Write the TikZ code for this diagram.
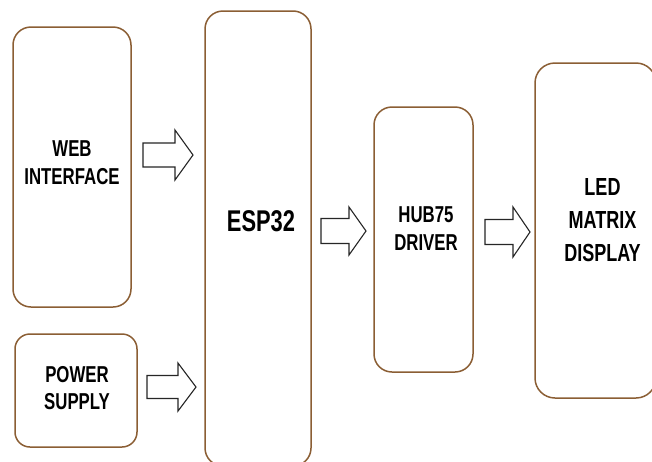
\documentclass[tikz,border=0pt]{standalone}
\usepackage{fontspec}
\setmainfont{Liberation Sans}
\definecolor{boxbrown}{RGB}{139,94,52}
\newcommand\blockarrowdraw[5]{% tail coordinate name, shaft length, head length, shaft half, head half
  \draw[blockarr] (#1) ++(0,-#4) -- ++(#2,0) -- ++(0,{-(#5-#4)}) -- ++(#3,#5) -- ++(-#3,#5) -- ++(0,{-(#5-#4)}) -- ++(-#2,0) -- cycle;}
\begin{document}
\begin{tikzpicture}[x=1pt,y=-1pt,
  box/.style={draw=boxbrown, line width=1.5pt, rounded corners=18pt, fill=white, inner sep=0pt},
  lbl/.style={font=\bfseries\fontsize{23}{28}\selectfont, align=center, xscale=0.73, inner sep=0pt},
  blockarr/.style={draw=black!85, line width=1.1pt, fill=white, line join=miter}]
\useasboundingbox[fill=white] (0,0) rectangle (652,461);
\begin{scope}
\clip (0,0) rectangle (652,461);
% boxes
\node[box, minimum width=118pt, minimum height=280pt] (web) at (72,167) {};
\node[box, minimum width=122pt, minimum height=113pt, rounded corners=15pt] (power) at (76,390.5) {};
\node[box, minimum width=106pt, minimum height=455pt] (esp) at (258,238.5) {};
\node[box, minimum width=99pt, minimum height=265pt] (hub) at (423.5,239.5) {};
\node[box, minimum width=121pt, minimum height=335pt, rounded corners=20pt] (led) at (595.5,230.5) {};
% labels
\node[lbl] (webl) at (72,163) {WEB\\INTERFACE};
\node[lbl, font=\bfseries\fontsize{23}{27}\selectfont] (powerl) at (77,388) {POWER\\SUPPLY};
\node[lbl, font=\bfseries\fontsize{30}{34}\selectfont] (espl) at (261,221) {ESP32};
\node[lbl] (hubl) at (426,229) {HUB75\\DRIVER};
\node[lbl, font=\bfseries\fontsize{24.7}{33}\selectfont] (ledl) at (602.5,220) {LED\\MATRIX\\DISPLAY};
% block arrows
\coordinate (a1) at (143,155);
\coordinate (a2) at (147,387);
\coordinate (a3) at (321,231);
\coordinate (a4) at (485,232);
\blockarrowdraw{a1}{32}{18}{12}{25}
\blockarrowdraw{a2}{31}{18}{11.5}{24}
\blockarrowdraw{a3}{28}{17}{12.5}{24}
\blockarrowdraw{a4}{28}{17}{12.5}{25}
\end{scope}
\end{tikzpicture}
\end{document}
